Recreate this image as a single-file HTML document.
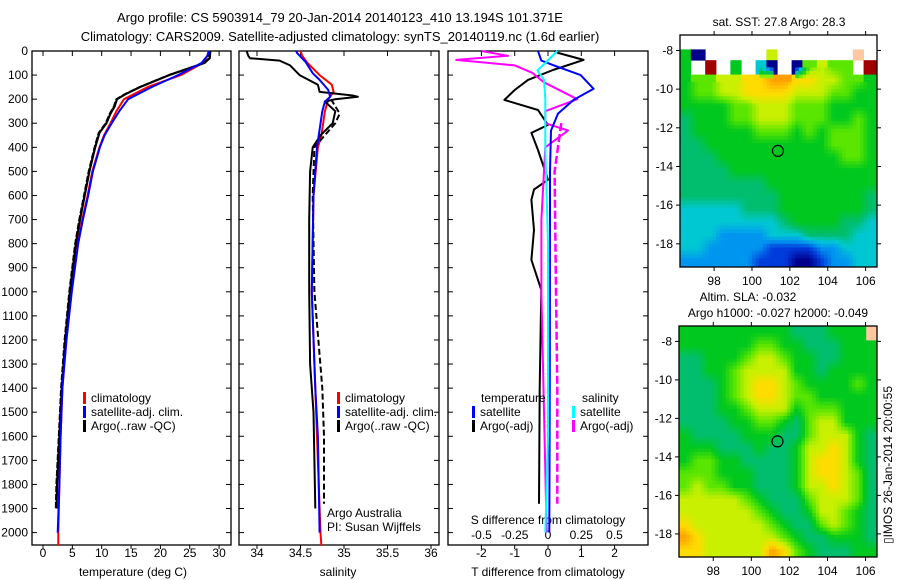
<!DOCTYPE html>
<html><head><meta charset="utf-8">
<style>
html,body{margin:0;padding:0;background:#fff;}
svg{display:block;font-family:"Liberation Sans",sans-serif;}
text{font-size:12px;fill:#000;}
</style></head>
<body>
<svg id="fig" width="900" height="580" viewBox="0 0 900 580" xmlns="http://www.w3.org/2000/svg">
<text x="340" y="22" text-anchor="middle" style="font-size:13px">Argo profile: CS 5903914_79 20-Jan-2014 20140123_410 13.194S 101.371E</text>
<text x="340" y="41" text-anchor="middle" style="font-size:13px">Climatology: CARS2009. Satellite-adjusted climatology: synTS_20140119.nc (1.6d earlier)</text>
<g id="plots"></g>
<text x="779" y="26" text-anchor="middle">sat. SST: 27.8 Argo: 28.3</text>
<text x="748" y="301" text-anchor="middle">Altim. SLA: -0.032</text>
<text x="778" y="317" text-anchor="middle">Argo h1000: -0.027 h2000: -0.049</text>
<text transform="translate(892,465) rotate(-90)" text-anchor="middle">▯IMOS 26-Jan-2014 20:00:55</text>
</svg>
<script>
// ---- Panel 1: temperature (depth m, deg C)
const tClimDepth=[0,20,50,100,150,200,250,300,350,400,500,600,700,800,1000,1200,1400,1600,1800,2000,2055];
const tClimVal=[28.2,28,27.2,23.5,17.8,13.8,12.5,11.5,10.4,9.6,8.4,7.6,6.7,5.9,4.8,3.9,3.3,3.0,2.8,2.6,2.6];
const tSatDepth=[0,20,50,100,150,200,250,300,350,400,500,600,700,800,1000,1200,1400,1600,1800,2000];
const tSatVal=[28.3,28,27,23,18.5,14.5,13,11.7,10.5,9.7,8.5,7.7,6.8,6.0,4.9,4.0,3.3,3.0,2.8,2.5];
const tArgoDepth=[0,30,50,100,150,180,200,230,260,300,340,400,500,600,700,800,1000,1200,1400,1600,1800,1900];
const tArgoVal=[28.5,28.4,27.5,21.5,16.5,14,12.6,12.2,11.5,10.8,9.6,8.9,7.9,7.1,6.3,5.6,4.6,3.8,3.2,2.8,2.4,2.3];
// ---- Panel 2: salinity
const sClimDepth=[0,20,50,100,140,170,200,250,350,400,600,1000,1400,1600,2000,2055];
const sClimVal=[34.5,34.52,34.58,34.72,34.86,34.88,34.82,34.78,34.74,34.70,34.65,34.63,34.67,34.69,34.73,34.74];
const sSatDepth=[0,8,46,92,120,162,190,210,250,400,600,1000,1400,1600,2000];
const sSatVal=[34.45,34.46,34.56,34.64,34.72,34.82,34.84,34.78,34.75,34.69,34.65,34.63,34.67,34.70,34.72];
const sArgoDepth=[0,20,30,40,60,100,140,170,185,190,200,210,250,300,350,400,500,700,1000,1300,1500,1700,1900];
const sArgoVal=[33.88,33.9,33.92,34.26,34.38,34.49,34.70,34.72,35.1,35.16,34.9,34.78,34.9,34.87,34.73,34.64,34.61,34.6,34.6,34.61,34.65,34.66,34.67];
const sArgoRawDepth=[200,260,300,400,600,1000,1400,1600,1880];
const sArgoRawVal=[34.85,34.95,34.9,34.66,34.64,34.66,34.75,34.77,34.77];
// ---- Panel 3: differences from climatology
const dTSatDepth=[0,40,60,100,157,203,260,330,500,1000,1500,2000];
const dTSatVal=[-0.3,-0.2,0.18,0.98,1.37,0.77,0.3,0.09,0.06,0.06,0.05,0.04];
const dTArgoDepth=[0,8,37,79,120,162,203,245,307,340,411,535,575,618,743,867,992,1400,1880];
const dTArgoVal=[0.2,0.3,1.07,0.15,-0.6,-1.0,-1.31,-0.3,0,-0.5,-0.3,0,-0.42,-0.5,-0.42,-0.5,-0.2,-0.25,-0.27];
const dSSatDepth=[0,50,80,120,200,400,800,1600,2000];
const dSSatVal=[0.07,-0.02,-0.08,-0.03,-0.02,-0.02,0,0.0,-0.02];
const dSArgoDepth=[0,20,37,60,90,130,200,250,300,330,400,700,1000,1500,2000];
const dSArgoVal=[-0.5,-0.3,-0.69,-0.25,-0.12,-0.03,0.22,-0.02,-0.02,0.15,-0.02,-0.05,-0.05,-0.03,-0.01];
const dSArgoRawDepth=[300,500,1000,1400,1880];
const dSArgoRawVal=[0.1,0.05,0.06,0.07,0.07];
// ---- Maps: colour-index grids (rows top->bottom, '.' = no data, r = dark red)
const sstRows=["................","50.....7......q.","5.r.5.30.06766.r","5667788998877665","5667788887776655","5555667776665555","4555667776665565","4555556665656665","4455555555556665","4445555555555665","4444555555555555","4444444555555555","4444444455555554","3333344455555554","3333333345555443","3332222333444433","3322222111122333","2222221110012233"];
const slaRows=["555555555444555q","5555556655444555","4455567765544555","4455677775545555","4445678876555565","4445678876655555","4445567775666555","4444556654677555","5444455544677754","5554445445778754","5665544445788754","6665554445788764","6766554445778764","7777765444677764","7777776544577654","8777777654467654","9877777765445554","8877777986544455"];
const lonTicks=[98,100,102,104,106];
const latTicks=[-8,-10,-12,-14,-16,-18];
const tTicks=[0,5,10,15,20,25,30];
const sTicks=[34,34.5,35,35.5,36];
const dTTicks=[-2,-1,0,1,2];
const dSTicks=[-0.5,-0.25,0,0.25,0.5];
const dSTickLabels=["-0.5","-0.25","0","0.25","0.5"];
const depthTicks=[0,100,200,300,400,500,600,700,800,900,1000,1100,1200,1300,1400,1500,1600,1700,1800,1900,2000];
const argoLon=101.371, argoLat=-13.194;

const NS="http://www.w3.org/2000/svg";
const G=document.getElementById('plots');
function mk(tag,attrs,parent){const e=document.createElementNS(NS,tag);for(const k in attrs)e.setAttribute(k,attrs[k]);(parent||G).appendChild(e);return e;}
const TOP=51,BOT=545;
const yD=d=>TOP+d*0.2408;
const xT=t=>43+t*5.87;
const xS=s=>257+(s-34)*87;
const xDT=v=>548+v*33.3;
const xDS=v=>548+v*133;

function frame(x0,x1,name){
  const r=mk('rect',{x:x0,y:TOP,width:x1-x0,height:BOT-TOP,fill:'none',stroke:'#000','stroke-width':1.3});
  
  
  depthTicks.forEach(d=>{mk('line',{x1:x0,x2:x0+5,y1:yD(d),y2:yD(d),stroke:'#000'});mk('line',{x1:x1,x2:x1-5,y1:yD(d),y2:yD(d),stroke:'#000'});});
}
function xticks(vals,f,labels,ly,name){
  vals.forEach((v,i)=>{
    const x=f(v);
    mk('line',{x1:x,x2:x,y1:TOP,y2:TOP+5,stroke:'#000'});
    mk('line',{x1:x,x2:x,y1:BOT,y2:BOT+4,stroke:'#000'});
    const t=mk('text',{x:x,y:ly,'text-anchor':'middle'});t.textContent=labels?labels[i]:String(v);
    
    
  });
}
function series(depths,vals,fx,color,name,dash,w){
  const pts=depths.map((d,i)=>fx(vals[i]).toFixed(1)+','+yD(d).toFixed(1)).join(' ');
  const p=mk('polyline',{points:pts,fill:'none',stroke:color,'stroke-width':w||2,'stroke-linejoin':'round'});
  if(dash)p.setAttribute('stroke-dasharray',dash);
  
  
}
function label(x,y,s,name,anchor){const t=mk('text',{x:x,y:y,'text-anchor':anchor||'start'});t.textContent=s;
  
  return t;}
function legend(x,y,color,s,name){
  const r=mk('rect',{x:x,y:y-10,width:3,height:12,fill:color});
  
  
  label(x+8,y,s,name);
}

frame(32,231,'temperature-panel');
frame(239,439,'salinity-panel');
frame(448,648,'difference-panel');
depthTicks.forEach(d=>{label(28,yD(d)+4,String(d),'depth-tick-label','end');});
xticks(tTicks,xT,null,557,'temperature-tick-label');
xticks(sTicks,xS,null,557,'salinity-tick-label');
xticks(dTTicks,xDT,null,557,'t-diff-tick-label');
dSTicks.forEach((v,i)=>{label(xDS(v),539,dSTickLabels[i],'s-diff-tick-label','middle');});
label(133,576,'temperature (deg C)','temperature-axis-title','middle');
label(338,576,'salinity','salinity-axis-title','middle');
label(548,576,'T difference from climatology','t-diff-axis-title','middle');
label(548,524,'S difference from climatology','s-diff-axis-title','middle');

series(tClimDepth,tClimVal,xT,'#f00','temp-climatology-line');
series(tArgoDepth,tArgoVal,xT,'#000','temp-argo-line',null,2.2);
series(tArgoDepth,tArgoVal.map(v=>v-0.15),xT,'#000','temp-argo-raw-line','6,2',1.6);
series(tSatDepth,tSatVal,xT,'#00f','temp-satellite-line');
series(sClimDepth,sClimVal,xS,'#f00','sal-climatology-line');
series(sArgoDepth,sArgoVal,xS,'#000','sal-argo-line');
series(sArgoRawDepth,sArgoRawVal,xS,'#000','sal-argo-raw-line','6,3',2);
series(sSatDepth,sSatVal,xS,'#00f','sal-satellite-line');
series(dTArgoDepth,dTArgoVal,xDT,'#000','t-diff-argo-line');
series(dSArgoDepth,dSArgoVal,xDS,'#f0f','s-diff-argo-line');
series(dSArgoRawDepth,dSArgoRawVal,xDS,'#f0f','s-diff-argo-raw-line','8,3',2.5);
series(dTSatDepth,dTSatVal,xDT,'#00f','t-diff-satellite-line');
series(dSSatDepth,dSSatVal,xDS,'#0ff','s-diff-satellite-line');

legend(83,402,'#f00','climatology','legend-climatology');
legend(83,416,'#00f','satellite-adj. clim.','legend-satellite-adj');
legend(83,430,'#000','Argo(..raw -QC)','legend-argo');
legend(337,402,'#f00','climatology','legend2-climatology');
legend(337,416,'#00f','satellite-adj. clim.','legend2-satellite-adj');
legend(337,430,'#000','Argo(..raw -QC)','legend2-argo');
label(481,402,'temperature','legend3-temperature-heading');
legend(472,416,'#00f','satellite','legend3-t-satellite');
legend(472,430,'#000','Argo(-adj)','legend3-t-argo');
label(582,402,'salinity','legend3-salinity-heading');
legend(572,416,'#0ff','satellite','legend3-s-satellite');
legend(572,430,'#f0f','Argo(-adj)','legend3-s-argo');
label(327,517,'Argo Australia','argo-australia-label');
label(327,531,'PI: Susan Wijffels','pi-label');

// maps
const stops=[[0,0,140],[0,60,220],[0,150,240],[0,200,210],[0,190,110],[0,200,30],[90,230,0],[200,240,0],[255,220,0],[255,160,0]];
const special={'r':'#a00000','q':'#ffc8a0'};
function colorOf(v){const i=Math.max(0,Math.min(8.999,v));const a=Math.floor(i),f=i-a;const c0=stops[a],c1=stops[a+1];
  return 'rgb('+c0.map((c,k)=>Math.round(c+(c1[k]-c)*f)).join(',')+')';}
function drawMap(rows,x0,x1,y0,y1,latTop,latBot,name){
  const lon0=96.2,lon1=106.6;
  const xL=v=>x0+(v-lon0)/(lon1-lon0)*(x1-x0);
  const yL=v=>y0+(latTop-v)/(latTop-latBot)*(y1-y0);
  const nr=rows.length,nc=rows[0].length,cw=(x1-x0)/nc,ch=(y1-y0)/nr;
  const get=(r,c)=>rows[Math.max(0,Math.min(nr-1,r))][Math.max(0,Math.min(nc-1,c))];
  const step=3.6;
  for(let py=y0;py<y1-0.01;py+=step){
    for(let px=x0;px<x1-0.01;px+=step){
      const fx=(px+step/2-x0)/cw-0.5, fy=(py+step/2-y0)/ch-0.5;
      const nrst=get(Math.round(fy),Math.round(fx));
      if(nrst==='.')continue;
      let fill;
      const c0=Math.floor(fx),r0=Math.floor(fy),tx=fx-c0,ty=fy-r0;
      const q=[get(r0,c0),get(r0,c0+1),get(r0+1,c0),get(r0+1,c0+1)];
      if(special[nrst])fill=special[nrst];
      else if(q.every(ch=>/[0-9]/.test(ch))){
        const v=(+q[0])*(1-tx)*(1-ty)+(+q[1])*tx*(1-ty)+(+q[2])*(1-tx)*ty+(+q[3])*tx*ty;
        fill=colorOf(v);
      } else fill=colorOf(+nrst);
      const w=Math.min(step,x1-px),h=Math.min(step,y1-py);
      const cell=mk('rect',{x:px.toFixed(1),y:py.toFixed(1),width:(w+0.4).toFixed(1),height:(h+0.4).toFixed(1),fill:fill});
      
      
    }
  }
  const f=mk('rect',{x:x0,y:y0,width:x1-x0,height:y1-y0,fill:'none',stroke:'#000','stroke-width':1.3});
  
  
  lonTicks.forEach(v=>{const x=xL(v);mk('line',{x1:x,x2:x,y1:y0,y2:y0-4,stroke:'#000'});mk('line',{x1:x,x2:x,y1:y1,y2:y1+4,stroke:'#000'});
    label(x,y1+18,String(v),name+'-lon-label','middle');});
  latTicks.forEach(v=>{const y=yL(v);mk('line',{x1:x0,x2:x0-4,y1:y,y2:y,stroke:'#000'});mk('line',{x1:x1,x2:x1+4,y1:y,y2:y,stroke:'#000'});
    label(x0-7,y+4,String(v),name+'-lat-label','end');});
  const c=mk('circle',{cx:xL(argoLon),cy:yL(argoLat),r:5.5,fill:'none',stroke:'#000','stroke-width':1.2});
  
  
}
drawMap(sstRows,680,877,35,267,-7.2,-19.2,'sst-map');
drawMap(slaRows,679,877,326,557,-7.2,-19.2,'sla-map');
</script>
</body></html>
